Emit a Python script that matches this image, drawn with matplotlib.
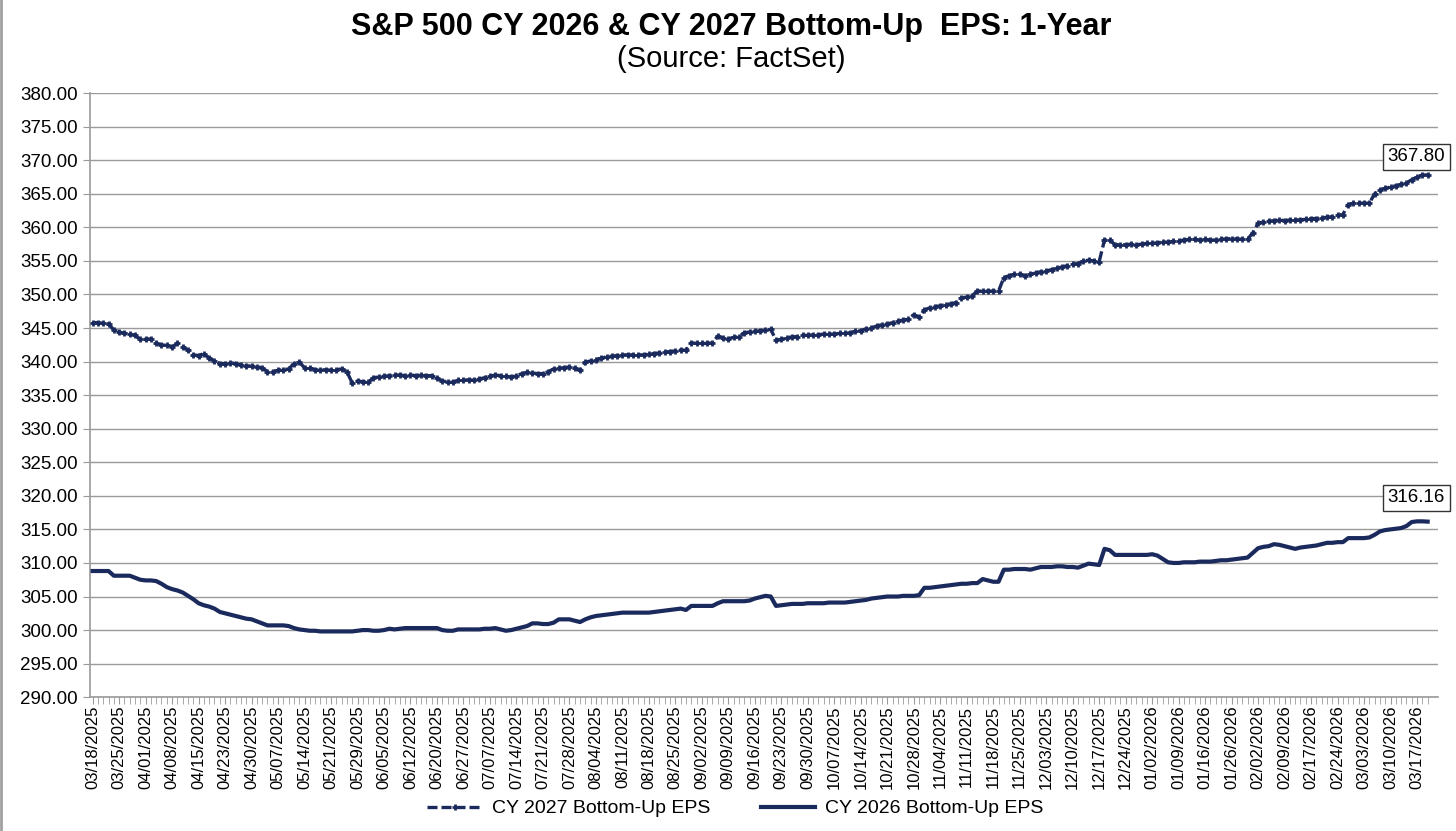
import numpy as np
import matplotlib.pyplot as plt

plt.rcParams['font.family'] = ['Liberation Sans', 'DejaVu Sans']

# weekly tick labels (every 5th trading day)
tick_labels = [
    '03/18/2025', '03/25/2025', '04/01/2025', '04/08/2025', '04/15/2025', '04/23/2025',
    '04/30/2025', '05/07/2025', '05/14/2025', '05/21/2025', '05/29/2025', '06/05/2025',
    '06/12/2025', '06/20/2025', '06/27/2025', '07/07/2025', '07/14/2025', '07/21/2025',
    '07/28/2025', '08/04/2025', '08/11/2025', '08/18/2025', '08/25/2025', '09/02/2025',
    '09/09/2025', '09/16/2025', '09/23/2025', '09/30/2025', '10/07/2025', '10/14/2025',
    '10/21/2025', '10/28/2025', '11/04/2025', '11/11/2025', '11/18/2025', '11/25/2025',
    '12/03/2025', '12/10/2025', '12/17/2025', '12/24/2025', '01/02/2026', '01/09/2026',
    '01/16/2026', '01/26/2026', '02/02/2026', '02/09/2026', '02/17/2026', '02/24/2026',
    '03/03/2026', '03/10/2026', '03/17/2026',
]

# daily values, one row per week
eps_2027 = [
    345.8, 345.8, 345.7, 345.6, 344.7,
    344.4, 344.2, 344.1, 343.9, 343.3,
    343.3, 343.4, 342.7, 342.5, 342.4,
    342.2, 342.7, 342.2, 341.7, 341.0,
    340.9, 341.2, 340.5, 340.1, 339.7,
    339.7, 339.8, 339.7, 339.5, 339.4,
    339.3, 339.2, 339.1, 338.5, 338.5,
    338.7, 338.8, 338.9, 339.7, 339.9,
    339.1, 339.0, 338.8, 338.7, 338.8,
    338.7, 338.8, 338.9, 338.5, 336.8,
    337.1, 337.0, 336.9, 337.6, 337.7,
    337.8, 337.9, 338.0, 338.0, 337.9,
    338.0, 337.9, 338.0, 337.9, 337.9,
    337.5, 337.1, 337.0, 336.9, 337.2,
    337.2, 337.3, 337.2, 337.4, 337.6,
    337.8, 338.0, 337.9, 337.8, 337.7,
    337.9, 338.2, 338.4, 338.3, 338.2,
    338.2, 338.5, 338.9, 339.0, 339.1,
    339.2, 339.0, 338.7, 339.9, 340.1,
    340.3, 340.5, 340.7, 340.8, 340.9,
    341.0, 341.0, 341.0, 341.0, 341.0,
    341.1, 341.2, 341.3, 341.4, 341.5,
    341.6, 341.7, 341.7, 342.8, 342.7,
    342.7, 342.7, 342.8, 343.8, 343.5,
    343.4, 343.6, 343.7, 344.3, 344.4,
    344.5, 344.6, 344.7, 344.8, 343.2,
    343.3, 343.5, 343.7, 343.7, 343.9,
    343.9, 344.0, 344.0, 344.1, 344.1,
    344.1, 344.2, 344.2, 344.3, 344.5,
    344.6, 344.9, 345.0, 345.3, 345.5,
    345.6, 345.8, 346.0, 346.2, 346.3,
    347.0, 346.6, 347.7, 348.0, 348.2,
    348.3, 348.5, 348.6, 348.8, 349.5,
    349.6, 349.8, 350.5, 350.5, 350.5,
    350.5, 350.5, 352.5, 352.8, 353.0,
    353.0, 352.8, 353.0, 353.2, 353.4,
    353.5, 353.7, 353.9, 354.1, 354.3,
    354.5, 354.6, 355.0, 355.1, 355.0,
    354.9, 358.1, 358.1, 357.4, 357.4,
    357.4, 357.5, 357.4, 357.5, 357.6,
    357.6, 357.7, 357.8, 357.8, 357.9,
    358.0, 358.1, 358.2, 358.2, 358.1,
    358.2, 358.1, 358.1, 358.2, 358.3,
    358.3, 358.3, 358.2, 358.2, 359.2,
    360.6, 360.8, 360.9, 361.0, 361.1,
    361.0, 361.1, 361.1, 361.1, 361.2,
    361.3, 361.3, 361.4, 361.5, 361.6,
    361.8, 361.9, 363.4, 363.6, 363.6,
    363.6, 363.6, 365.0, 365.6, 365.8,
    366.0, 366.2, 366.4, 366.6, 367.1,
    367.5, 367.8, 367.8,
]

eps_2026 = [
    308.8, 308.8, 308.8, 308.8, 308.1,
    308.1, 308.1, 308.1, 307.8, 307.5,
    307.4, 307.4, 307.3, 306.9, 306.4,
    306.1, 305.9, 305.6, 305.1, 304.6,
    304.0, 303.7, 303.5, 303.2, 302.7,
    302.5, 302.3, 302.1, 301.9, 301.7,
    301.6, 301.3, 301.0, 300.7, 300.7,
    300.7, 300.7, 300.6, 300.3, 300.1,
    300.0, 299.9, 299.9, 299.8, 299.8,
    299.8, 299.8, 299.8, 299.8, 299.8,
    299.9, 300.0, 300.0, 299.9, 299.9,
    300.0, 300.2, 300.1, 300.2, 300.3,
    300.3, 300.3, 300.3, 300.3, 300.3,
    300.3, 300.0, 299.9, 299.9, 300.1,
    300.1, 300.1, 300.1, 300.1, 300.2,
    300.2, 300.3, 300.1, 299.9, 300.0,
    300.2, 300.4, 300.6, 301.0, 301.0,
    300.9, 300.9, 301.1, 301.6, 301.6,
    301.6, 301.4, 301.2, 301.6, 301.9,
    302.1, 302.2, 302.3, 302.4, 302.5,
    302.6, 302.6, 302.6, 302.6, 302.6,
    302.6, 302.7, 302.8, 302.9, 303.0,
    303.1, 303.2, 303.0, 303.6, 303.6,
    303.6, 303.6, 303.6, 304.0, 304.3,
    304.3, 304.3, 304.3, 304.3, 304.4,
    304.7, 304.9, 305.1, 305.0, 303.6,
    303.7, 303.8, 303.9, 303.9, 303.9,
    304.0, 304.0, 304.0, 304.0, 304.1,
    304.1, 304.1, 304.1, 304.2, 304.3,
    304.4, 304.5, 304.7, 304.8, 304.9,
    305.0, 305.0, 305.0, 305.1, 305.1,
    305.1, 305.2, 306.3, 306.3, 306.4,
    306.5, 306.6, 306.7, 306.8, 306.9,
    306.9, 307.0, 307.0, 307.6, 307.4,
    307.2, 307.2, 309.0, 309.0, 309.1,
    309.1, 309.1, 309.0, 309.2, 309.4,
    309.4, 309.4, 309.5, 309.5, 309.4,
    309.4, 309.3, 309.6, 309.9, 309.8,
    309.7, 312.1, 311.9, 311.2, 311.2,
    311.2, 311.2, 311.2, 311.2, 311.2,
    311.3, 311.1, 310.6, 310.1, 310.0,
    310.0, 310.1, 310.1, 310.1, 310.2,
    310.2, 310.2, 310.3, 310.4, 310.4,
    310.5, 310.6, 310.7, 310.8, 311.5,
    312.2, 312.4, 312.5, 312.8, 312.7,
    312.5, 312.3, 312.1, 312.3, 312.4,
    312.5, 312.6, 312.8, 313.0, 313.0,
    313.1, 313.1, 313.7, 313.7, 313.7,
    313.7, 313.8, 314.2, 314.7, 314.9,
    315.0, 315.1, 315.2, 315.5, 316.1,
    316.2, 316.2, 316.16,
]

navy = '#1b2a5c'
grid_c = '#9a9a9a'

x = np.arange(len(eps_2027))

fig = plt.figure(figsize=(14.56, 8.31), dpi=100)
ax = fig.add_axes([0.0618, 0.161, 0.926, 0.727])

ax.plot(x, eps_2027, color=navy, lw=2.4, ls=(0, (3, 1.2)), marker='+', ms=5, mew=2,
        label='CY 2027 Bottom-Up EPS', zorder=3)
ax.plot(x, eps_2026, color=navy, lw=3, label='CY 2026 Bottom-Up EPS', zorder=3)

ax.set_ylim(290, 380)
ax.set_yticks(np.arange(290, 381, 5))
ax.set_yticklabels([f'{v:.2f}' for v in np.arange(290, 381, 5)], fontsize=13.5)
ax.yaxis.grid(True, color=grid_c, lw=1)
ax.set_axisbelow(True)

ax.set_xlim(-0.5, 254)
ax.set_xticks(np.arange(0, 5 * len(tick_labels), 5))
ax.set_xticklabels(tick_labels, rotation=90, fontsize=12)
ax.set_xticks(x, minor=True)
ax.tick_params(axis='x', which='both', length=5, color=grid_c, pad=1)
ax.tick_params(axis='y', length=5, color=grid_c, pad=4)

for s in ['top', 'right']:
    ax.spines[s].set_visible(False)
for s in ['left', 'bottom']:
    ax.spines[s].set_color(grid_c)
    ax.spines[s].set_linewidth(1.2)

# last-value labels
box = dict(boxstyle='square,pad=0.25', fc='white', ec='#333333', lw=1)
ax.annotate(f'{eps_2027[-1]:.2f}', xy=(x[-1], eps_2027[-1]), xytext=(-8, 13),
            textcoords='offset points', ha='center', va='center', fontsize=13.5,
            bbox=box, annotation_clip=False)
ax.annotate(f'{eps_2026[-1]:.2f}', xy=(x[-1], eps_2026[-1]), xytext=(-8, 17),
            textcoords='offset points', ha='center', va='center', fontsize=13.5,
            bbox=box, annotation_clip=False)

fig.text(0.502, 0.967, 'S&P 500 CY 2026 & CY 2027 Bottom-Up  EPS: 1-Year', ha='center',
         va='center', fontsize=22, fontweight='bold')
fig.text(0.502, 0.929, '(Source: FactSet)', ha='center', va='center', fontsize=21)

fig.legend(loc='center', bbox_to_anchor=(0.505, 0.027), ncol=2, frameon=False,
           fontsize=14, handlelength=2.8, columnspacing=2.6, handletextpad=0.5)

fig.add_artist(plt.Line2D([0.001, 0.001], [0, 1], color='#a0a0a0', lw=2))

fig.savefig('out.png', dpi=100)
